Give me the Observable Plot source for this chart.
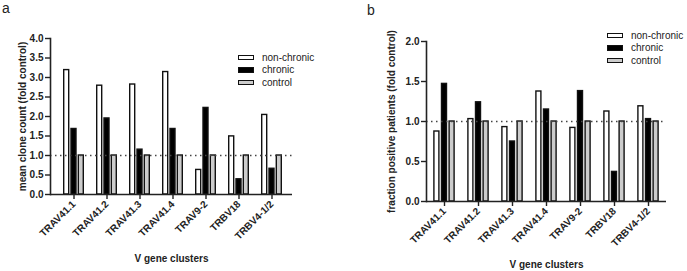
<!DOCTYPE html>
<html><head><meta charset="utf-8">
<script src="https://cdn.jsdelivr.net/npm/d3@7"></script>
<script src="https://cdn.jsdelivr.net/npm/@observablehq/plot@0.6"></script>
<style>
body{margin:0;background:#fff;font-family:"Liberation Sans",Arial,sans-serif;}
#wrap{position:relative;width:687px;height:271px;overflow:hidden;background:#fff;}
.panel{position:absolute;top:0;}
.panel svg{font-family:"Liberation Sans",Arial,sans-serif;overflow:visible;}
.tag{position:absolute;font-size:14px;line-height:16px;color:#222;}
.legend{position:absolute;font-size:10px;color:#222;}
.legend .row{display:flex;align-items:center;height:12.5px;}
.legend .sw{width:14px;height:3.5px;border:1.4px solid #111;margin-right:8px;}
</style></head><body><div id="wrap"></div>
<script>
const clusters = ["TRAV41.1","TRAV41.2","TRAV41.3","TRAV41.4","TRAV9-2","TRBV18","TRBV4-1/2"];
const seriesNames = ["non-chronic","chronic","control"];
const seriesFill = ["#ffffff","#000000","#cccccc"];
const cloneNonChronic = [3.19,2.79,2.82,3.14,0.63,1.49,2.04];
const cloneChronic    = [1.68,1.95,1.15,1.68,2.22,0.39,0.66];
const cloneControl    = [1,1,1,1,1,1,1];
const fracNonChronic  = [0.875,1.03,0.93,1.375,0.92,1.125,1.19];
const fracChronic     = [1.47,1.24,0.75,1.15,1.38,0.37,1.03];
const fracControl     = [1,1,1,1,1,1,1];
const cloneTicks = [0,0.5,1,1.5,2,2.5,3,3.5,4];
const fracTicks = [0,0.5,1,1.5,2];
const reference = 1;

const wrap = document.getElementById("wrap");

function panel(cfg) {
  const rows = clusters.map((c, i) => ({cluster: c, v0: cfg.values[0][i], v1: cfg.values[1][i], v2: cfg.values[2][i]}));
  const marks = [];
  seriesNames.forEach((s, k) => {
    marks.push(Plot.barY(rows, {
      x: "cluster", y: "v" + k, fill: seriesFill[k], stroke: "#111", strokeWidth: 1.4,
      insetLeft: cfg.inset, insetRight: cfg.inset, dx: (k - 1) * cfg.offset
    }));
  });
  marks.push(Plot.ruleY([reference], {stroke: "#444", strokeWidth: 1.3, strokeDasharray: "1.5,3.5"}));
  marks.push(Plot.ruleY([0], {stroke: "#222", strokeWidth: 1.6}));
  marks.push(Plot.frame({anchor: "left", stroke: "#222", strokeWidth: 1.6}));
  marks.push(Plot.axisY({ticks: cfg.ticks, tickFormat: d3.format(".1f"), tickSize: 5, tickPadding: 2,
    fontSize: 10, fontWeight: "bold", stroke: "#222", strokeWidth: 1.4, fill: "#222",
    label: cfg.ylabel, labelAnchor: "center", labelOffset: cfg.yLabelOffset, labelArrow: "none"}));
  marks.push(Plot.axisX({tickSize: 5, tickPadding: 3, tickRotate: -45, fontSize: 10, fontWeight: "bold",
    stroke: "#222", strokeWidth: 1.4, fill: "#222",
    label: "V gene clusters", labelAnchor: "center", labelOffset: cfg.xLabelOffset, labelArrow: "none"}));
  const svg = Plot.plot({
    width: cfg.width, height: 271,
    marginLeft: cfg.ml, marginRight: cfg.mr, marginTop: cfg.mt, marginBottom: cfg.mb,
    x: {domain: clusters, range: cfg.xrange, padding: 0},
    y: {domain: cfg.ydomain},
    marks
  });
  const div = document.createElement("div");
  div.className = "panel";
  div.style.left = cfg.left + "px";
  div.appendChild(svg);
  wrap.appendChild(div);

  const lg = document.createElement("div");
  lg.className = "legend";
  lg.style.left = cfg.legend[0] + "px";
  lg.style.top = cfg.legend[1] + "px";
  seriesNames.forEach((s, k) => {
    const r = document.createElement("div"); r.className = "row";
    const sw = document.createElement("div"); sw.className = "sw"; sw.style.background = seriesFill[k];
    const t = document.createElement("span"); t.textContent = s;
    r.appendChild(sw); r.appendChild(t); lg.appendChild(r);
  });
  wrap.appendChild(lg);

  const tag = document.createElement("div");
  tag.className = "tag"; tag.textContent = cfg.tag;
  tag.style.left = cfg.tagPos[0] + "px"; tag.style.top = cfg.tagPos[1] + "px";
  wrap.appendChild(tag);
}

panel({
  tag: "a", tagPos: [2, 0], left: 0, width: 340,
  ml: 50, mr: 48, mt: 38, mb: 77, xrange: [54, 291], ydomain: [0, 4], ticks: cloneTicks,
  values: [cloneNonChronic, cloneChronic, cloneControl],
  inset: 14, offset: 7.3,
  ylabel: "mean clone count (fold control)", yLabelOffset: 32, xLabelOffset: 67,
  legend: [238, 51]
});
panel({
  tag: "b", tagPos: [367, 2], left: 340, width: 347,
  ml: 86, mr: 21, mt: 41, mb: 70, xrange: [84.6, 328.4], ydomain: [0, 2], ticks: fracTicks,
  values: [fracNonChronic, fracChronic, fracControl],
  inset: 14.5, offset: 7.6,
  ylabel: "fraction positive patients (fold control)", yLabelOffset: 39, xLabelOffset: 66,
  legend: [607, 29]
});
</script></body></html>
